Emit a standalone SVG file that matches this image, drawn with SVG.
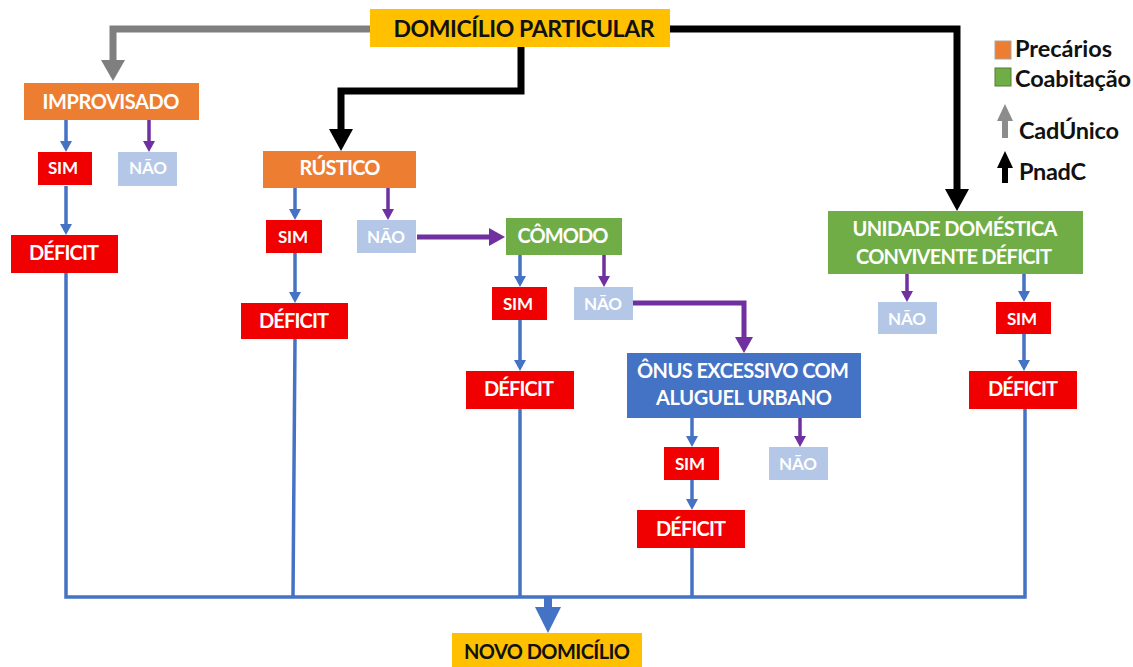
<svg xmlns="http://www.w3.org/2000/svg" width="1133" height="667" viewBox="0 0 1133 667">
<style>
text{font-family:"Lato","Liberation Sans",sans-serif;font-weight:700;text-anchor:middle;fill:#fff}
.dk{fill:#111}
.lg{fill:#111;text-anchor:start;font-size:23.5px}
.l{fill:none;stroke-linejoin:miter}
.bl{stroke:#4472C4;stroke-width:3.5}
.pu{stroke:#7030A0;stroke-width:3.5}
.pu2{stroke:#7030A0;stroke-width:5}
.bk{stroke:#000;stroke-width:7}
.gy{stroke:#7F7F7F;stroke-width:7}
.y{fill:#FFC000}.o{fill:#ED7D31}.g{fill:#70AD47}.b{fill:#4472C4}.r{fill:#F00000}.n{fill:#B4C7E7}
.s{font-size:17px}.d{font-size:20px}.m{font-size:20px}
</style>
<defs>
<marker id="hb" markerUnits="userSpaceOnUse" markerWidth="11" markerHeight="12" refX="0" refY="6" orient="auto"><path d="M0,0L11,6L0,12Z" fill="#4472C4"/></marker>
<marker id="hp" markerUnits="userSpaceOnUse" markerWidth="11" markerHeight="12" refX="0" refY="6" orient="auto"><path d="M0,0L11,6L0,12Z" fill="#7030A0"/></marker>
<marker id="hp2" markerUnits="userSpaceOnUse" markerWidth="16" markerHeight="18" refX="0" refY="9" orient="auto"><path d="M0,0L16,9L0,18Z" fill="#7030A0"/></marker>
<marker id="hk" markerUnits="userSpaceOnUse" markerWidth="22" markerHeight="24" refX="0" refY="12" orient="auto"><path d="M0,0L22,12L0,24Z" fill="#000"/></marker>
<marker id="hg" markerUnits="userSpaceOnUse" markerWidth="21" markerHeight="24" refX="0" refY="12" orient="auto"><path d="M0,0L21,12L0,24Z" fill="#7F7F7F"/></marker>
<marker id="hB" markerUnits="userSpaceOnUse" markerWidth="26" markerHeight="26" refX="0" refY="13" orient="auto"><path d="M0,0L26,13L0,26Z" fill="#4472C4"/></marker>
</defs>
<rect width="1133" height="667" fill="#fff"/>
<g id="connectors">
<path class="l gy" d="M370,29H113V60" marker-end="url(#hg)"/>
<path class="l bk" d="M521,47V91H341V129" marker-end="url(#hk)"/>
<path class="l bk" d="M670,29H957V189" marker-end="url(#hk)"/>
<path class="l bl" d="M66,120V141" marker-end="url(#hb)"/>
<path class="l pu" d="M149,120V141" marker-end="url(#hp)"/>
<path class="l bl" d="M66,186V224" marker-end="url(#hb)"/>
<path class="l bl" d="M295,188V209" marker-end="url(#hb)"/>
<path class="l pu" d="M388,188V209" marker-end="url(#hp)"/>
<path class="l bl" d="M295,253V292" marker-end="url(#hb)"/>
<path class="l pu2" d="M417,237H489" marker-end="url(#hp2)"/>
<path class="l bl" d="M520,255V276" marker-end="url(#hb)"/>
<path class="l pu" d="M604,255V276" marker-end="url(#hp)"/>
<path class="l bl" d="M520,320V360" marker-end="url(#hb)"/>
<path class="l pu2" d="M633,303H744V337" marker-end="url(#hp2)"/>
<path class="l bl" d="M692,418V436" marker-end="url(#hb)"/>
<path class="l pu" d="M800,418V436" marker-end="url(#hp)"/>
<path class="l bl" d="M692,480V499" marker-end="url(#hb)"/>
<path class="l pu" d="M907,274V291" marker-end="url(#hp)"/>
<path class="l bl" d="M1024,274V291" marker-end="url(#hb)"/>
<path class="l bl" d="M1024,334V360" marker-end="url(#hb)"/>
<path class="l bl" d="M66,273V597H1025V409M295,339L293,597M520,409V597M692,548V597"/>
<path class="l" stroke="#4472C4" stroke-width="8" d="M548,597V607" marker-end="url(#hB)"/>
</g>
<g id="domicilio-particular"><rect class="y" x="370" y="9" width="300" height="38"/><text class="dk" x="524" y="37" font-size="23" textLength="261">DOMICÍLIO PARTICULAR</text></g>
<g id="improvisado"><rect class="o" x="24" y="83" width="175" height="37"/><text x="111" y="109" class="m" textLength="137">IMPROVISADO</text></g>
<g id="sim-1"><rect class="r" x="38" y="152" width="54" height="33"/><text x="63" y="174" class="s" textLength="30">SIM</text></g>
<g id="nao-1"><rect class="n" x="118" y="152" width="59" height="34"/><text x="148" y="174" class="s" textLength="38">NÃO</text></g>
<g id="deficit-1"><rect class="r" x="11" y="235" width="107" height="38"/><text x="64" y="260" class="d" textLength="70">DÉFICIT</text></g>
<g id="rustico"><rect class="o" x="263" y="151" width="153" height="37"/><text x="340" y="175" class="m" textLength="81">RÚSTICO</text></g>
<g id="sim-2"><rect class="r" x="266" y="220" width="56" height="33"/><text x="293" y="243" class="s" textLength="30">SIM</text></g>
<g id="nao-2"><rect class="n" x="357" y="220" width="59" height="33"/><text x="386" y="243" class="s" textLength="38">NÃO</text></g>
<g id="deficit-2"><rect class="r" x="241" y="303" width="107" height="36"/><text x="294" y="328" class="d" textLength="70">DÉFICIT</text></g>
<g id="comodo"><rect class="g" x="506" y="218" width="116" height="37"/><text x="563" y="243" class="m" textLength="91">CÔMODO</text></g>
<g id="sim-3"><rect class="r" x="492" y="287" width="55" height="33"/><text x="518" y="310" class="s" textLength="30">SIM</text></g>
<g id="nao-3"><rect class="n" x="574" y="287" width="59" height="33"/><text x="603" y="310" class="s" textLength="38">NÃO</text></g>
<g id="deficit-3"><rect class="r" x="466" y="371" width="108" height="38"/><text x="519" y="396" class="d" textLength="70">DÉFICIT</text></g>
<g id="onus"><rect class="b" x="627" y="353" width="234" height="65"/><text x="743" y="378" class="m" textLength="212">ÔNUS EXCESSIVO COM</text><text x="744" y="405" class="m" textLength="176">ALUGUEL URBANO</text></g>
<g id="sim-4"><rect class="r" x="664" y="447" width="55" height="33"/><text x="690" y="470" class="s" textLength="30">SIM</text></g>
<g id="nao-4"><rect class="n" x="769" y="447" width="59" height="33"/><text x="798" y="470" class="s" textLength="38">NÃO</text></g>
<g id="deficit-4"><rect class="r" x="637" y="510" width="108" height="38"/><text x="691" y="536" class="d" textLength="70">DÉFICIT</text></g>
<g id="unidade"><rect class="g" x="828" y="211" width="255" height="63"/><text x="955" y="236" class="m" textLength="205">UNIDADE DOMÉSTICA</text><text x="954" y="264" class="m" textLength="196">CONVIVENTE DÉFICIT</text></g>
<g id="nao-5"><rect class="n" x="878" y="302" width="59" height="32"/><text x="907" y="325" class="s" textLength="38">NÃO</text></g>
<g id="sim-5"><rect class="r" x="996" y="302" width="55" height="32"/><text x="1022" y="325" class="s" textLength="30">SIM</text></g>
<g id="deficit-5"><rect class="r" x="969" y="371" width="108" height="38"/><text x="1023" y="396" class="d" textLength="70">DÉFICIT</text></g>
<g id="novo-domicilio"><rect class="y" x="452" y="633" width="190" height="34"/><text class="dk" x="547" y="659" font-size="20" textLength="166">NOVO DOMICÍLIO</text></g>
<g id="legend">
<rect x="995" y="41" width="16" height="18" fill="#ED7D31" stroke="#A5A5A5" stroke-width="1"/>
<rect x="995" y="68" width="16" height="18" fill="#70AD47" stroke="#507E32" stroke-width="1"/>
<text class="lg" x="1015" y="57" textLength="97">Precários</text>
<text class="lg" x="1015" y="87" textLength="116">Coabitação</text>
<path d="M1005,104L1013,121H1008V138H1002V121H997Z" fill="#8C8C8C"/>
<path d="M1005,151L1013,168H1008V183H1002V168H997Z" fill="#000"/>
<text class="lg" x="1019" y="139" textLength="100">CadÚnico</text>
<text class="lg" x="1019" y="180" textLength="67">PnadC</text>
</g>
</svg>
